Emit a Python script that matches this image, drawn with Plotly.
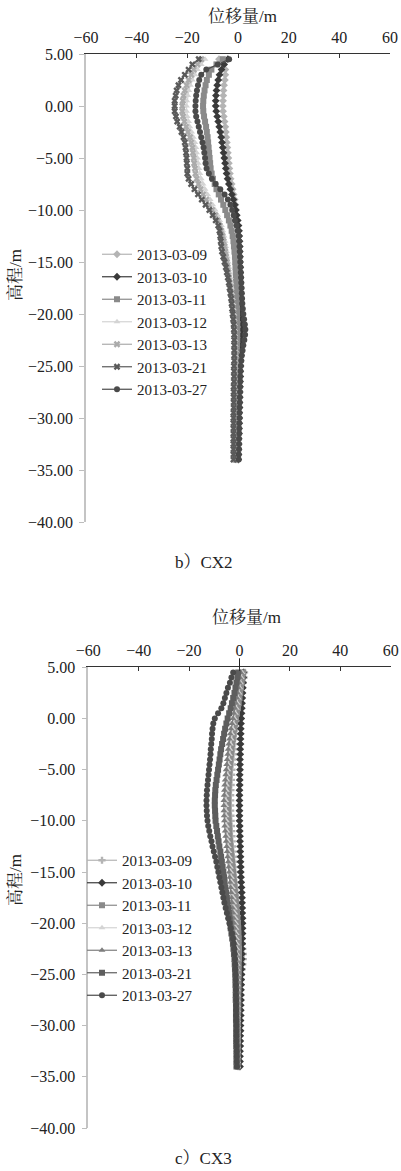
import plotly.graph_objects as go

# ---------------- data ----------------
ELEV = [4.5, 4.0, 3.5, 3.0, 2.5, 2.0, 1.5, 1.0, 0.5, 0.0,
        -0.5, -1.0, -1.5, -2.0, -2.5, -3.0, -3.5, -4.0, -4.5, -5.0,
        -5.5, -6.0, -6.5, -7.0, -7.5, -8.0, -8.5, -9.0, -9.5, -10.0,
        -10.5, -11.0, -11.5, -12.0, -12.5, -13.0, -13.5, -14.0, -14.5, -15.0,
        -15.5, -16.0, -16.5, -17.0, -17.5, -18.0, -18.5, -19.0, -19.5, -20.0,
        -20.5, -21.0, -21.5, -22.0, -22.5, -23.0, -23.5, -24.0, -24.5, -25.0,
        -25.5, -26.0, -26.5, -27.0, -27.5, -28.0, -28.5, -29.0, -29.5, -30.0,
        -30.5, -31.0, -31.5, -32.0, -32.5, -33.0, -33.5, -34.0]

DATES = ["2013-03-09", "2013-03-10", "2013-03-11", "2013-03-12",
         "2013-03-13", "2013-03-21", "2013-03-27"]

# CX2 displacement (m)
CX2_0309 = [-7.5, -5.5, -5.0, -5.0, -5.2, -5.5, -5.7, -5.8, -5.9, -6.0,
            -5.9, -5.6, -5.3, -5.0, -4.8, -4.6, -4.4, -4.2, -4.0, -3.8,
            -3.6, -3.4, -3.2, -2.9, -2.5, -2.1, -1.7, -1.3, -1.0, -0.8,
            -0.6, -0.5, -0.4, -0.3, -0.3, -0.2, -0.2, -0.2, -0.1, -0.1,
            -0.1, 0.0, 0.0, 0.1, 0.1, 0.1, 0.2, 0.2, 0.2, 0.1,
            0.1, 0.0, 0.0, -0.1, -0.1, -0.2, -0.2, -0.3, -0.3, -0.3,
            -0.4, -0.4, -0.4, -0.5, -0.5, -0.5, -0.5, -0.6, -0.6, -0.6,
            -0.6, -0.6, -0.7, -0.7, -0.7, -0.7, -0.8, -0.8]
CX2_0310 = [-4.0, -5.5, -6.5, -7.3, -7.8, -8.2, -8.5, -8.7, -8.8, -8.8,
            -8.6, -8.2, -7.8, -7.4, -7.0, -6.6, -6.3, -6.0, -5.7, -5.4,
            -5.1, -4.8, -4.5, -4.1, -3.6, -3.0, -2.4, -1.8, -1.3, -0.9,
            -0.5, -0.1, 0.2, 0.4, 0.5, 0.6, 0.7, 0.7, 0.8, 0.8,
            0.9, 0.9, 1.0, 1.0, 1.1, 1.1, 1.2, 1.2, 1.3, 1.4,
            1.5, 1.6, 1.6, 1.5, 1.4, 1.3, 1.2, 1.1, 1.0, 1.0,
            0.9, 0.9, 0.8, 0.8, 0.7, 0.7, 0.6, 0.6, 0.5, 0.5,
            0.5, 0.4, 0.4, 0.3, 0.3, 0.2, 0.2, 0.1]
CX2_0311 = [-6.0, -8.5, -10.5, -11.5, -12.3, -12.8, -13.2, -13.5, -13.7, -13.8,
            -13.7, -13.4, -13.0, -12.6, -12.3, -12.0, -11.8, -11.6, -11.4, -11.2,
            -11.0, -10.8, -10.4, -9.9, -9.2, -8.5, -7.6, -6.7, -5.8, -5.0,
            -4.3, -3.6, -3.0, -2.5, -2.1, -1.8, -1.6, -1.4, -1.2, -1.1,
            -1.0, -0.9, -0.8, -0.7, -0.6, -0.6, -0.5, -0.5, -0.4, -0.4,
            -0.4, -0.3, -0.3, -0.3, -0.3, -0.4, -0.4, -0.4, -0.5, -0.5,
            -0.5, -0.6, -0.6, -0.6, -0.7, -0.7, -0.7, -0.8, -0.8, -0.8,
            -0.8, -0.9, -0.9, -0.9, -1.0, -1.0, -1.0, -1.0]
CX2_0312 = [-13.0, -14.5, -16.0, -17.0, -18.0, -18.8, -19.4, -19.8, -20.2, -20.3,
            -20.3, -20.0, -19.5, -19.0, -18.3, -17.6, -17.0, -16.6, -16.3, -16.0,
            -15.7, -15.4, -15.0, -14.5, -13.8, -13.0, -12.0, -11.0, -10.0, -9.0,
            -8.0, -7.2, -6.5, -6.0, -5.5, -5.1, -4.8, -4.5, -4.2, -3.9,
            -3.6, -3.3, -3.0, -2.8, -2.6, -2.4, -2.2, -2.0, -1.8, -1.6,
            -1.5, -1.4, -1.3, -1.2, -1.1, -1.1, -1.0, -1.0, -1.0, -0.9,
            -0.9, -0.9, -0.9, -0.9, -0.8, -0.8, -0.8, -0.8, -0.8, -0.8,
            -0.8, -0.8, -0.8, -0.8, -0.8, -0.8, -0.8, -0.8]
CX2_0313 = [-14.5, -16.0, -17.5, -18.5, -19.5, -20.3, -21.0, -21.5, -21.8, -22.0,
            -22.0, -21.7, -21.2, -20.5, -19.8, -19.0, -18.5, -18.0, -17.8, -17.5,
            -17.3, -17.0, -16.8, -16.3, -15.6, -14.8, -13.8, -12.6, -11.4, -10.2,
            -9.0, -8.0, -7.2, -6.6, -6.1, -5.7, -5.3, -5.0, -4.7, -4.4,
            -4.1, -3.8, -3.5, -3.2, -3.0, -2.7, -2.5, -2.3, -2.1, -1.9,
            -1.7, -1.5, -1.4, -1.3, -1.2, -1.2, -1.1, -1.1, -1.0, -1.0,
            -1.0, -1.0, -1.0, -1.0, -0.9, -0.9, -0.9, -0.9, -0.9, -0.9,
            -0.9, -0.9, -0.9, -0.9, -0.9, -0.9, -0.9, -0.9]
CX2_0321 = [-15.5, -18.0, -19.5, -21.0, -22.5, -23.5, -24.2, -24.6, -25.0, -25.0,
            -25.0, -24.5, -24.0, -23.0, -22.3, -21.5, -21.0, -20.7, -20.5, -20.3,
            -20.2, -20.0, -20.0, -19.5, -18.5, -17.2, -15.8, -14.3, -12.8, -11.3,
            -10.0, -8.8, -7.8, -7.3, -7.0, -6.8, -6.6, -6.3, -5.8, -5.3,
            -4.8, -4.4, -4.0, -3.6, -3.3, -3.0, -2.7, -2.5, -2.3, -2.1,
            -1.9, -1.7, -1.6, -1.5, -1.5, -1.5, -1.5, -1.5, -1.5, -1.6,
            -1.6, -1.6, -1.6, -1.7, -1.7, -1.7, -1.7, -1.7, -1.8, -1.8,
            -1.8, -1.8, -1.8, -1.8, -1.8, -1.8, -1.8, -1.8]
CX2_0327 = [-3.5, -8.0, -12.5, -14.5, -15.3, -15.8, -16.2, -16.5, -16.7, -16.8,
            -16.8, -16.5, -16.0, -15.5, -15.0, -14.5, -14.0, -13.6, -13.3, -13.0,
            -12.8, -12.4, -11.5, -10.3, -8.8, -7.0, -5.3, -4.0, -3.0, -2.3,
            -1.7, -1.2, -0.6, -0.1, 0.3, 0.5, 0.6, 0.7, 0.8, 0.9,
            1.0, 1.1, 1.2, 1.3, 1.4, 1.5, 1.6, 1.7, 1.9, 2.1,
            2.4, 2.7, 2.9, 2.8, 2.5, 2.1, 1.8, 1.5, 1.3, 1.1,
            1.0, 0.9, 0.9, 0.8, 0.8, 0.7, 0.7, 0.6, 0.6, 0.6,
            0.5, 0.5, 0.5, 0.4, 0.4, 0.4, 0.3, 0.3]

# CX3 displacement (m)
CX3_0309 = [2.0, 1.8, 1.5, 1.2, 0.9, 0.6, 0.3, 0.0, -0.3, -0.6,
            -0.9, -1.2, -1.5, -1.8, -2.0, -2.2, -2.4, -2.6, -2.8, -3.0,
            -3.1, -3.2, -3.3, -3.4, -3.5, -3.5, -3.5, -3.5, -3.4, -3.3,
            -3.2, -3.1, -3.0, -2.9, -2.7, -2.5, -2.3, -2.1, -1.9, -1.7,
            -1.5, -1.3, -1.1, -0.9, -0.7, -0.5, -0.3, -0.1, 0.1, 0.3,
            0.5, 0.7, 0.9, 1.1, 1.3, 1.5, 1.5, 1.3, 1.0, 0.7,
            0.5, 0.3, 0.2, 0.1, 0.0, 0.0, -0.1, -0.1, -0.2, -0.2,
            -0.2, -0.3, -0.3, -0.3, -0.3, -0.4, -0.4, -0.4]
CX3_0310 = [1.5, 1.5, 1.4, 1.3, 1.2, 1.1, 1.0, 0.9, 0.8, 0.7,
            0.6, 0.5, 0.5, 0.4, 0.4, 0.3, 0.3, 0.2, 0.2, 0.2,
            0.1, 0.1, 0.1, 0.0, 0.0, 0.0, 0.0, 0.0, 0.0, 0.0,
            0.1, 0.1, 0.2, 0.2, 0.3, 0.3, 0.4, 0.4, 0.5, 0.5,
            0.6, 0.7, 0.8, 0.9, 1.0, 1.0, 1.1, 1.1, 1.2, 1.2,
            1.2, 1.2, 1.1, 1.1, 1.0, 1.0, 0.9, 0.9, 0.8, 0.8,
            0.7, 0.7, 0.6, 0.6, 0.6, 0.5, 0.5, 0.5, 0.4, 0.4,
            0.4, 0.3, 0.3, 0.3, 0.2, 0.2, 0.2, 0.2]
CX3_0311 = [1.5, 1.2, 0.9, 0.6, 0.3, 0.0, -0.3, -0.6, -1.0, -1.4,
            -1.8, -2.1, -2.4, -2.7, -3.0, -3.2, -3.4, -3.6, -3.8, -4.0,
            -4.1, -4.2, -4.3, -4.4, -4.5, -4.5, -4.5, -4.5, -4.4, -4.3,
            -4.2, -4.1, -4.0, -3.8, -3.6, -3.4, -3.2, -3.0, -2.8, -2.6,
            -2.4, -2.2, -2.0, -1.8, -1.6, -1.4, -1.2, -1.0, -0.8, -0.6,
            -0.5, -0.4, -0.3, -0.3, -0.2, -0.2, -0.2, -0.3, -0.3, -0.3,
            -0.4, -0.4, -0.4, -0.5, -0.5, -0.5, -0.5, -0.6, -0.6, -0.6,
            -0.6, -0.6, -0.6, -0.7, -0.7, -0.7, -0.7, -0.7]
CX3_0312 = [1.0, 0.7, 0.4, 0.1, -0.2, -0.5, -0.8, -1.2, -1.6, -2.0,
            -2.4, -2.7, -3.0, -3.3, -3.6, -3.8, -4.0, -4.2, -4.4, -4.6,
            -4.8, -5.0, -5.1, -5.2, -5.3, -5.4, -5.4, -5.4, -5.3, -5.2,
            -5.1, -5.0, -4.8, -4.6, -4.4, -4.2, -4.0, -3.8, -3.6, -3.4,
            -3.2, -3.0, -2.8, -2.6, -2.4, -2.2, -2.0, -1.8, -1.6, -1.5,
            -1.4, -1.3, -1.2, -1.1, -1.0, -1.0, -0.9, -0.9, -0.9, -0.8,
            -0.8, -0.8, -0.8, -0.8, -0.8, -0.8, -0.8, -0.8, -0.8, -0.8,
            -0.8, -0.8, -0.8, -0.8, -0.7, -0.7, -0.7, -0.7]
CX3_0313 = [0.5, 0.2, -0.1, -0.4, -0.7, -1.0, -1.4, -1.8, -2.2, -2.6,
            -3.0, -3.4, -3.7, -4.0, -4.3, -4.5, -4.7, -4.9, -5.1, -5.3,
            -5.5, -5.7, -5.9, -6.0, -6.1, -6.2, -6.2, -6.2, -6.1, -6.0,
            -5.9, -5.7, -5.5, -5.3, -5.1, -4.9, -4.7, -4.5, -4.3, -4.1,
            -3.9, -3.7, -3.5, -3.3, -3.1, -2.9, -2.7, -2.5, -2.3, -2.1,
            -2.0, -1.9, -1.8, -1.7, -1.6, -1.5, -1.5, -1.4, -1.4, -1.3,
            -1.3, -1.3, -1.2, -1.2, -1.2, -1.2, -1.1, -1.1, -1.1, -1.1,
            -1.1, -1.0, -1.0, -1.0, -1.0, -1.0, -1.0, -1.0]
CX3_0321 = [-0.5, -0.8, -1.2, -1.6, -2.0, -2.5, -3.0, -3.5, -4.1, -4.7,
            -5.2, -5.7, -6.1, -6.5, -6.9, -7.3, -7.6, -7.9, -8.2, -8.5,
            -8.8, -9.1, -9.4, -9.6, -9.7, -9.8, -9.8, -9.7, -9.6, -9.5,
            -9.2, -8.9, -8.6, -8.3, -8.0, -7.6, -7.3, -7.0, -6.7, -6.4,
            -6.1, -5.9, -5.6, -5.3, -5.0, -4.7, -4.4, -4.2, -3.9, -3.7,
            -3.5, -3.2, -2.9, -2.6, -2.4, -2.2, -2.0, -1.9, -1.8, -1.7,
            -1.6, -1.6, -1.5, -1.5, -1.5, -1.4, -1.4, -1.4, -1.4, -1.3,
            -1.3, -1.3, -1.3, -1.3, -1.2, -1.2, -1.2, -1.2]
CX3_0327 = [-2.5, -3.2, -3.8, -4.6, -5.2, -5.8, -6.4, -7.2, -8.5, -9.8,
            -10.4, -10.7, -10.9, -11.0, -11.2, -11.4, -11.5, -11.7, -11.9, -12.1,
            -12.3, -12.5, -12.7, -12.9, -13.0, -13.1, -13.1, -13.0, -12.9, -12.7,
            -12.4, -12.0, -11.6, -11.1, -10.7, -10.2, -9.7, -9.2, -8.8, -8.4,
            -8.0, -7.6, -7.2, -6.8, -6.4, -6.0, -5.5, -5.0, -4.5, -4.0,
            -3.5, -3.0, -2.6, -2.3, -2.1, -1.9, -1.8, -1.7, -1.6, -1.5,
            -1.5, -1.4, -1.4, -1.4, -1.3, -1.3, -1.3, -1.3, -1.2, -1.2,
            -1.2, -1.2, -1.2, -1.1, -1.1, -1.1, -1.1, -1.0]

CX2 = [CX2_0309, CX2_0310, CX2_0311, CX2_0312, CX2_0313, CX2_0321, CX2_0327]
CX3 = [CX3_0309, CX3_0310, CX3_0311, CX3_0312, CX3_0313, CX3_0321, CX3_0327]

X_TICKS = [-60, -40, -20, 0, 20, 40, 60]

# ---------------- styles ----------------
COLORS2 = ["#b4b4b4", "#3a3a3a", "#8a8a8a", "#d4d4d4", "#ababab", "#5a5a5a", "#4a4a4a"]
SYMBOLS2 = ["diamond", "diamond", "square", "triangle-up", "x", "x", "circle"]
COLORS3 = ["#b4b4b4", "#3a3a3a", "#8a8a8a", "#d4d4d4", "#7e7e7e", "#5e5e5e", "#4a4a4a"]
SYMBOLS3 = ["cross", "diamond", "square", "triangle-up", "triangle-up", "square", "circle"]

W, H = 401, 1171
SERIF = "Liberation Serif"
CJK = "Liberation Serif, Noto Serif CJK SC, Noto Sans CJK SC"


def fx(p):
    return p / W


def fy(p):
    return 1 - p / H


fig = go.Figure()

for i, d in enumerate(DATES):
    fig.add_trace(go.Scatter(
        x=CX2[i], y=ELEV, name=d, mode="lines+markers",
        xaxis="x", yaxis="y", legend="legend",
        line=dict(color=COLORS2[i], width=1.2),
        marker=dict(symbol=SYMBOLS2[i], size=6, color=COLORS2[i]),
    ))
for i, d in enumerate(DATES):
    fig.add_trace(go.Scatter(
        x=CX3[i], y=ELEV, name=d, mode="lines+markers",
        xaxis="x2", yaxis="y2", legend="legend2",
        line=dict(color=COLORS3[i], width=1.2),
        marker=dict(symbol=SYMBOLS3[i], size=6, color=COLORS3[i]),
    ))

tickfont = dict(family=SERIF, size=16, color="#222")

# panel geometry (pixels)
P1 = dict(x0=86, x1=390, y0=54, y1=522, zx=238)
P2 = dict(x0=88.3, x1=390.7, y0=667.3, y1=1128, zx=239.5)


def xaxis_cfg(p, anchor):
    return dict(domain=[fx(p["x0"]), fx(p["x1"])], range=[-60, 60], side="top",
                anchor=anchor, tickvals=X_TICKS, ticks="inside", ticklen=4,
                tickcolor="#333", showline=True, linecolor="#333", linewidth=1,
                showgrid=False, zeroline=False, tickfont=tickfont,
                automargin=False, ticklabelstandoff=4)


def yaxis_cfg(p, anchor):
    return dict(domain=[fy(p["y1"]), fy(p["y0"])], range=[-40, 5], anchor=anchor,
                tick0=5, dtick=5, tickformat=".2f", ticks="outside", ticklen=5,
                tickcolor="#bdbdbd", showline=True, linecolor="#c4c4c4", linewidth=1.5,
                showgrid=False, zeroline=False, tickfont=tickfont,
                automargin=False, ticklabelstandoff=3)


def zero_cfg(p, over):
    return dict(overlaying=over, anchor="free", position=fx(p["zx"]), side="right",
                range=[-40, 5], tick0=5, dtick=5, ticks="outside", ticklen=4,
                tickcolor="#222", showline=True, linecolor="#222", linewidth=1,
                showticklabels=False, showgrid=False, zeroline=False, automargin=False)


legend_common = dict(bgcolor="rgba(0,0,0,0)", font=dict(family=SERIF, size=15, color="#222"),
                     xanchor="left", yanchor="top", tracegroupgap=0, itemwidth=30)

fig.update_layout(
    template="none",
    width=W, height=H, margin=dict(l=0, r=0, t=0, b=0, autoexpand=False),
    paper_bgcolor="white", plot_bgcolor="white",
    xaxis=xaxis_cfg(P1, "y"), yaxis=yaxis_cfg(P1, "x"),
    xaxis2=xaxis_cfg(P2, "y2"), yaxis2=yaxis_cfg(P2, "x2"),
    yaxis3=zero_cfg(P1, "y"), yaxis4=zero_cfg(P2, "y2"),
    legend=dict(x=fx(97), y=fy(238), **legend_common),
    legend2=dict(x=fx(82), y=fy(844), **legend_common),
    showlegend=True,
)

ann_font = dict(family=CJK, size=17, color="#222")
annotations = [
    dict(text="位移量/m", x=fx(242), y=fy(17)),
    dict(text="位移量/m", x=fx(246), y=fy(617)),
    dict(text="高程/m", x=fx(15), y=fy(275), textangle=-90),
    dict(text="高程/m", x=fx(15), y=fy(880), textangle=-90),
    dict(text="b）CX2", x=fx(204), y=fy(562)),
    dict(text="c）CX3", x=fx(204), y=fy(1158)),
]
for a in annotations:
    a.update(xref="paper", yref="paper", showarrow=False, xanchor="center",
             yanchor="middle", font=ann_font)
fig.update_layout(annotations=annotations)

# small extension of the zero line above the top axis in panel c
fig.add_shape(type="line", xref="x2", yref="paper", x0=0, x1=0,
              y0=fy(P2["y0"]), y1=fy(P2["y0"] - 9), line=dict(color="#222", width=1))

fig.write_html(
    "out.html",
    config={"displayModeBar": False},
    post_script="document.body.style.margin='0';document.body.style.overflow='hidden';",
)
